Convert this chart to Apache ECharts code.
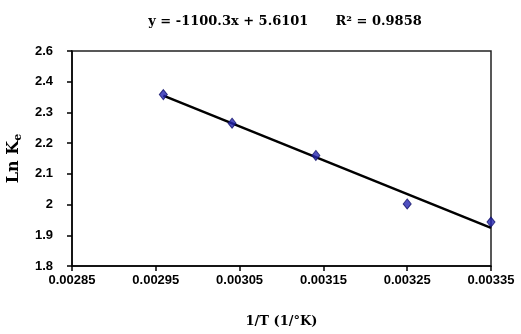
<!DOCTYPE html>
<html>
<head>
<meta charset="utf-8">
<script src="https://cdn.jsdelivr.net/npm/echarts@6/dist/echarts.min.js"></script>
<style>
	html, body { margin: 0; padding: 0; background: #fff; }
	#chart { width: 521px; height: 334px; }
</style>
</head>
<body>
<div id="chart"></div>
<script>
// 1/T values and ln K
var invT = [0.002959, 0.003041, 0.003141, 0.003250, 0.003350];
var lnK = [2.358, 2.265, 2.160, 2.002, 1.943];
// trendline end points (y = -1100.3x + 5.6101)
var trendX = [0.002959, 0.003350];
var trendY = [2.355, 1.924];
var yTickLabels = ['1.8', '1.9', '2', '2.1', '2.2', '2.3', '2.4', '2.6'];
var titleText = 'y = -1100.3x + 5.6101      R² = 0.9858';

var chart = echarts.init(document.getElementById('chart'));
chart.setOption({
	animation: false,
	title: {
		text: titleText,
		left: 280,
		textAlign: 'center',
		top: 10,
		textStyle: {
			fontFamily: 'DejaVu Serif',
			fontWeight: 'bold',
			fontSize: 13,
			color: '#000'
		}
	},
	grid: {
		left: 72,
		right: 30,
		top: 51,
		bottom: 68,
		outerBoundsMode: 'none',
		show: true,
		borderColor: '#222',
		borderWidth: 1.5
	},
	xAxis: {
		type: 'value',
		min: 0.00285,
		max: 0.00335,
		interval: 0.0001,
		name: '1/T (1/°K)',
		nameLocation: 'middle',
		nameGap: 49,
		nameTextStyle: {
			fontFamily: 'DejaVu Serif',
			fontWeight: 'bold',
			fontSize: 13,
			color: '#000'
		},
		axisLine: { lineStyle: { color: '#000', width: 1.5 } },
		axisTick: { show: true, inside: false, length: 5, lineStyle: { color: '#000', width: 1.5 } },
		axisLabel: {
			margin: 8,
			fontFamily: 'Liberation Sans',
			fontWeight: 'bold',
			fontSize: 13,
			color: '#000',
			formatter: function (v) { return v.toFixed(5); }
		},
		splitLine: { show: false }
	},
	yAxis: {
		type: 'value',
		min: 1.8,
		max: 2.5,
		interval: 0.1,
		name: '{a|Ln K}{b|e}',
		nameLocation: 'middle',
		nameGap: 45,
		nameRotate: 90,
		nameTextStyle: {
			rich: {
				a: { fontFamily: 'DejaVu Serif', fontWeight: 'bold', fontSize: 16, color: '#000' },
				b: { fontFamily: 'DejaVu Serif', fontWeight: 'bold', fontSize: 11, color: '#000', padding: [9, 0, 0, 0] }
			}
		},
		axisLine: { show: true, lineStyle: { color: '#000', width: 1.5 } },
		axisTick: { show: true, inside: false, length: 5, lineStyle: { color: '#000', width: 1.5 } },
		axisLabel: {
			margin: 19,
			fontFamily: 'Liberation Sans',
			fontWeight: 'bold',
			fontSize: 13,
			color: '#000',
			formatter: function (v) {
				var i = Math.round((v - 1.8) / 0.1);
				return yTickLabels[i];
			}
		},
		splitLine: { show: false }
	},
	series: [
		{
			type: 'line',
			data: trendX.map(function (x, i) { return [x, trendY[i]]; }),
			showSymbol: false,
			lineStyle: { color: '#000', width: 2.5 },
			z: 2
		},
		{
			type: 'scatter',
			data: invT.map(function (x, i) { return [x, lnK[i]]; }),
			symbol: 'diamond',
			symbolSize: [8, 10],
			clip: false,
			itemStyle: { color: '#2424b0', borderColor: '#10106a', borderWidth: 1 },
			z: 3
		}
	]
});
</script>
</body>
</html>
